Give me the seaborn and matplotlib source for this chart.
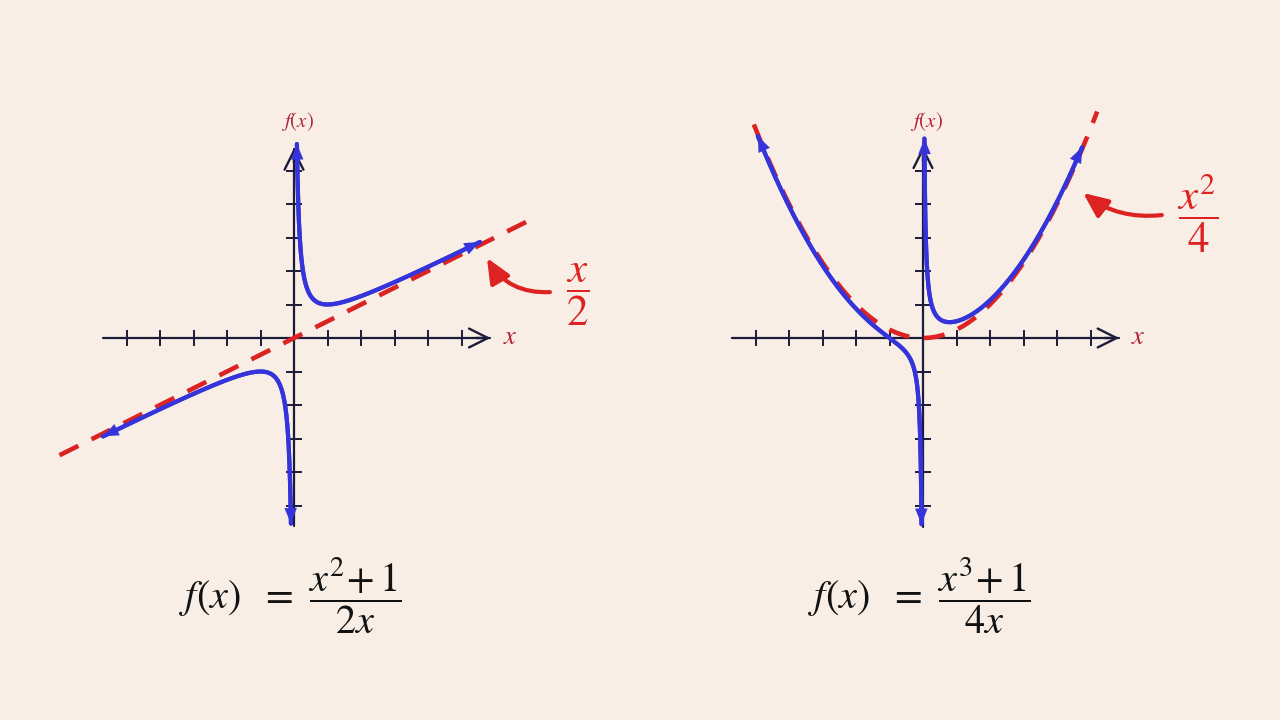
import numpy as np
import pandas as pd
import matplotlib
matplotlib.use("Agg")
import matplotlib.pyplot as plt
import seaborn as sns

# data: x ranges drawn for each branch
left_pos_range = [0.087, 5.55]
left_neg_range = [-5.7, -0.091]
left_asym_range = [-7.0, 6.95]
right_pos_range = [0.042, 4.75]
right_neg_range = [-4.93, -0.045]
right_asym_range = [-5.05, 5.2]
tick_values = [-5, -4, -3, -2, -1, 1, 2, 3, 4, 5]

bg = "#F8EEE5"
blue = "#3434DA"
red = "#DD2222"
dark_red = "#B0243A"
navy = "#1B1B3A"

sns.set_theme(style="white")
plt.rcParams["font.family"] = ["Liberation Serif", "DejaVu Serif"]
plt.rcParams["mathtext.fontset"] = "stix"

scale = 33.5  # pixels per unit
fig = plt.figure(figsize=(12.8, 7.2), dpi=100, facecolor=bg)


def f_left(x):
    return (x ** 2 + 1) / (2 * x)


def f_right(x):
    return (x ** 3 + 1) / (4 * x)


def branch(rng, func):
    lo, hi = rng
    if lo > 0:
        xs = np.geomspace(lo, hi, 500)
    else:
        xs = -np.geomspace(-hi, -lo, 500)[::-1]
    return pd.DataFrame({"x": xs, "y": func(xs)})


def make_axes(left_px, origin_px):
    # axes covering half the figure, origin placed at origin_px
    ax = fig.add_axes([left_px / 1280, 0, 640 / 1280, 1])
    ax.set_facecolor(bg)
    ax.set_xlim((0 - (origin_px - left_px)) / scale, (640 - (origin_px - left_px)) / scale)
    ax.set_ylim((338 - 720) / scale, 338 / scale)
    ax.set_axis_off()
    return ax


def draw_axes(ax, xmin, xmax, ymin, ymax):
    ax.plot([xmin, xmax - 0.1], [0, 0], color=navy, lw=1.6, zorder=1)
    ax.plot([0, 0], [ymin, ymax - 0.1], color=navy, lw=1.6, zorder=1)
    ax.annotate("", xy=(xmax, 0), xytext=(xmax - 0.6, 0),
                arrowprops=dict(arrowstyle="->", color=navy, lw=1.7, mutation_scale=34))
    ax.annotate("", xy=(0, ymax), xytext=(0, ymax - 0.6),
                arrowprops=dict(arrowstyle="->", color=navy, lw=1.7, mutation_scale=34))
    ax.plot(tick_values, [0] * len(tick_values), ls="none", marker="|",
            ms=11, mew=1.4, color=navy, zorder=1)
    ax.plot([0] * len(tick_values), tick_values, ls="none", marker="_",
            ms=11, mew=1.4, color=navy, zorder=1)
    ax.text(xmax + 0.5, 0, "$x$", color=dark_red, fontsize=19, ha="center", va="center")
    ax.text(0.1, 6.45, "$f(x)$", color=dark_red, fontsize=15, ha="center", va="center")


def draw_branch(ax, df, head_at_end=True):
    sns.lineplot(data=df, x="x", y="y", sort=False, estimator=None,
                 color=blue, lw=3, ax=ax, zorder=3)
    if head_at_end:
        tip, back = df.iloc[-1], df.iloc[-25]
    else:
        tip, back = df.iloc[0], df.iloc[24]
    ax.annotate("", xy=(tip.x, tip.y), xytext=(back.x, back.y),
                arrowprops=dict(arrowstyle="-|>,head_length=0.5,head_width=0.2", color=blue,
                                lw=0.1, mutation_scale=22, shrinkA=0, shrinkB=0), zorder=4)


def dashed(ax, x, y):
    sns.lineplot(x=x, y=y, color=red, lw=3.3, ax=ax, zorder=2)
    ax.lines[-1].set_dashes((4.6, 3.2))


# ---- left chart ----
ax1 = make_axes(0, 294)
draw_axes(ax1, -5.7, 5.95, -5.6, 5.75)
xa = np.linspace(*left_asym_range, 50)
dashed(ax1, xa, xa / 2)
pos = branch(left_pos_range, f_left)
neg = branch(left_neg_range, f_left)
draw_branch(ax1, pos, head_at_end=True)
draw_branch(ax1, pos, head_at_end=False)
draw_branch(ax1, neg, head_at_end=True)
draw_branch(ax1, neg, head_at_end=False)
ax1.annotate("", xy=(5.76, 2.39), xytext=(7.64, 1.37),
             arrowprops=dict(arrowstyle="-|>,head_length=0.5,head_width=0.22", color=red, lw=3,
                             mutation_scale=30, connectionstyle="arc3,rad=-0.3",
                             shrinkA=0, shrinkB=0))
ax1.text(8.48, 1.28, r"$\dfrac{x}{2}$", color=red, fontsize=31, ha="center", va="center")
ax1.text(-0.1, -7.7, r"$f(x)\ \ =\ \dfrac{x^2\!+1}{2x}$", color="#111111", fontsize=29,
         ha="center", va="center")

# ---- right chart ----
ax2 = make_axes(640, 923)
draw_axes(ax2, -5.7, 5.94, -5.64, 5.8)
xb = np.linspace(*right_asym_range, 200)
dashed(ax2, xb, xb ** 2 / 4)
pos2 = branch(right_pos_range, f_right)
neg2 = branch(right_neg_range, f_right)
draw_branch(ax2, pos2, head_at_end=True)
draw_branch(ax2, pos2, head_at_end=False)
draw_branch(ax2, neg2, head_at_end=True)
draw_branch(ax2, neg2, head_at_end=False)
ax2.annotate("", xy=(4.78, 4.33), xytext=(7.13, 3.67),
             arrowprops=dict(arrowstyle="-|>,head_length=0.5,head_width=0.22", color=red, lw=3,
                             mutation_scale=30, connectionstyle="arc3,rad=-0.2",
                             shrinkA=0, shrinkB=0))
ax2.text(8.2, 3.73, r"$\dfrac{x^2}{4}$", color=red, fontsize=31, ha="center", va="center")
ax2.text(-0.1, -7.7, r"$f(x)\ \ =\ \dfrac{x^3\!+1}{4x}$", color="#111111", fontsize=29,
         ha="center", va="center")

fig.savefig("out.png", dpi=100, facecolor=bg)
